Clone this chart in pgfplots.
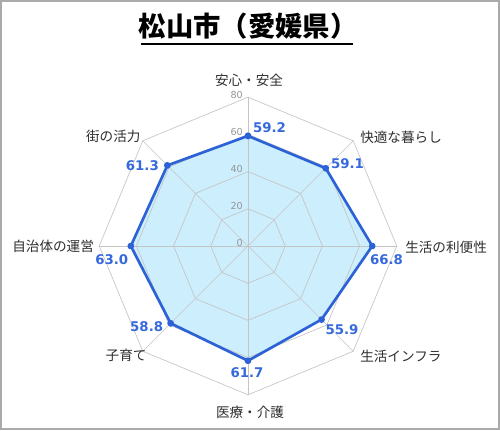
\documentclass[border=0pt]{standalone}
\usepackage{pgfplots}
\pgfplotsset{compat=1.18}
\usepackage{fontspec}
\setmainfont{Noto Sans CJK JP}
\newfontfamily\numfont{DejaVu Sans}

\definecolor{framegray}{HTML}{AAAAAA}
\definecolor{gridgray}{HTML}{C4C4C4}
\definecolor{lineblue}{HTML}{2D62D6}
\definecolor{fillblue}{HTML}{CDEEFD}
\definecolor{valblue}{HTML}{3569DC}
\definecolor{labgray}{HTML}{2E2E2E}
\definecolor{tickgray}{HTML}{969696}

% offsets are given in pixels of the 500x430 picture
\pgfplotsset{
  shifted labels/.style={
    draw=none, mark=none, point meta=explicit symbolic,
    visualization depends on={value \thisrow{anc} \as \anc},
    visualization depends on={value \thisrow{dx} \as \dx},
    visualization depends on={value \thisrow{dy} \as \dy},
    nodes near coords,
    nodes near coords style={anchor=\anc, inner sep=0pt,
      xshift={0.75pt*(\dx)}, yshift={0.75pt*(\dy)}},
  },
}

\begin{document}
\begin{tikzpicture}[x=0.75pt,y=0.75pt]
\path[use as bounding box] (0,0) rectangle (500,430);
\draw[framegray, line width=1.5pt] (1,1) rectangle (499,429);
% title
\node[font=\bfseries\fontsize{20.5}{24}\selectfont, text=black] at (248,404) {松山市（愛媛県）};
\draw[black, line width=1.5pt] (141,386) -- (353,386);

\begin{axis}[
  at={(186pt,138pt)}, anchor=center,
  hide axis, clip=false,
  x=1.395pt, y=1.395pt,
  xmin=-100, xmax=100, ymin=-100, ymax=100,
  data cs=polar,
]
% filled area
\addplot[draw=none, fill=fillblue, mark=none] coordinates {
  (90,59.2) (45,59.1) (0,66.8) (-45,55.9) (-90,61.7) (-135,58.8) (180,63.0) (135,61.3) (90,59.2)};
% grid rings
\addplot[gridgray, line width=0.5pt, mark=none] coordinates {(0,20)(45,20)(90,20)(135,20)(180,20)(225,20)(270,20)(315,20)(360,20)};
\addplot[gridgray, line width=0.5pt, mark=none] coordinates {(0,40)(45,40)(90,40)(135,40)(180,40)(225,40)(270,40)(315,40)(360,40)};
\addplot[gridgray, line width=0.5pt, mark=none] coordinates {(0,60)(45,60)(90,60)(135,60)(180,60)(225,60)(270,60)(315,60)(360,60)};
\addplot[gridgray, line width=0.5pt, mark=none] coordinates {(0,80)(45,80)(90,80)(135,80)(180,80)(225,80)(270,80)(315,80)(360,80)};
% spokes
\addplot[gridgray, line width=0.5pt, mark=none] coordinates {(0,80)(180,80)};
\addplot[gridgray, line width=0.5pt, mark=none] coordinates {(45,80)(225,80)};
\addplot[gridgray, line width=0.5pt, mark=none] coordinates {(90,80)(270,80)};
\addplot[gridgray, line width=0.5pt, mark=none] coordinates {(135,80)(315,80)};
% outline
\addplot[lineblue, line width=2pt, mark=*, mark size=1.5pt, mark options={fill=lineblue, draw=lineblue}, line join=round] coordinates {
  (90,59.2) (45,59.1) (0,66.8) (-45,55.9) (-90,61.7) (-135,58.8) (180,63.0) (135,61.3) (90,59.2)};
% radial tick labels
\addplot[shifted labels, nodes near coords style={text=tickgray, font=\numfont\fontsize{7.2}{8}\selectfont}]
  table[x=a, y=r, meta=lab] {
a r lab anc dx dy
90 0 0 east -5 2.5
90 20 20 east -5 2.5
90 40 40 east -5 2.5
90 60 60 east -5 2.5
90 80 80 east -5 2
};
% value labels
\addplot[shifted labels, nodes near coords style={text=valblue, font=\numfont\bfseries\fontsize{10}{12}\selectfont}]
  table[x=a, y=r, meta=lab] {
a r lab anc dx dy
90 59.2 59.2 center 21.5 8
45 59.1 59.1 center 21.8 5
0 66.8 66.8 center 14.3 -14
-45 55.9 55.9 center 20.5 -10.5
-90 61.7 61.7 center -1 -12
-135 58.8 58.8 center -24 -3.4
180 63.0 63.0 center -19 -13.3
135 61.3 61.3 center -25 0
};
% category labels
\addplot[shifted labels, nodes near coords style={text=labgray, font=\fontsize{10.2}{12}\selectfont}]
  table[x=a, y=r, meta=lab] {
a r lab anc dx dy
90 80 安心・安全 center 1 17
45 80 快適な暮らし west 6.8 3
0 80 生活の利便性 west 8.2 -1.7
-45 80 生活インフラ west 6.8 -4.8
-90 80 医療・介護 center 2 -18
-135 80 子育て east 4 -4
180 80 自治体の運営 east -5 -0.7
135 80 街の活力 east -2 4
};
\end{axis}
\end{tikzpicture}
\end{document}
